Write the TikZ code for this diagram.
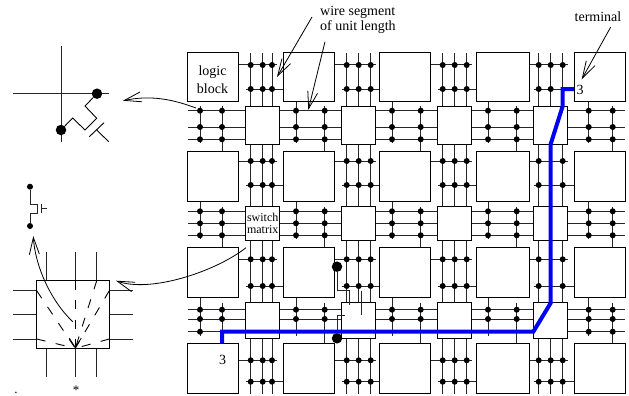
\documentclass[tikz,border=0pt]{standalone}
\usepackage{fontspec}
\setmainfont{Liberation Serif}
\usetikzlibrary{arrows.meta,calc}
\definecolor{routeblue}{RGB}{0,0,245}
\definecolor{wiregray}{gray}{0.15}
\tikzset{
  logicblock/.style={rectangle,draw=black,fill=white,line width=1pt,inner sep=0pt},
  blocklabel/.style={align=center,inner sep=0pt,font=\fontsize{14}{18}\selectfont},
  switchlabel/.style={align=center,inner sep=0pt,font=\fontsize{12}{12}\selectfont},
  textlabel/.style={align=left,inner sep=0pt,font=\fontsize{14}{15}\selectfont},
  marklabel/.style={anchor=base,inner sep=0pt,outer sep=0pt,font=\fontsize{13}{13}\selectfont},
  track/.style={draw=wiregray,line width=1pt},
  wiredot/.style={fill=black},
  bigdot/.style={circle,fill=black,inner sep=0pt,minimum size=10.5pt},
  smalldot/.style={circle,fill=black,inner sep=0pt,minimum size=6pt},
  thinwire/.style={draw=wiregray,line width=0.9pt},
  route/.style={draw=routeblue,line width=4pt},
  leader/.style={draw=black,line width=0.8pt,-{Straight Barb[length=17pt,width=10pt,line width=0.8pt]}},
  radial/.style={draw=black,line width=0.9pt,dash pattern=on 9pt off 10.5pt}
}
\begin{document}
\begin{tikzpicture}[x=1pt,y=-1pt]
  \useasboundingbox (0,0) rectangle (629,396);
  % routing channels
  \foreach \ty in {110.7,127,139.3,211.3,223.3,235.3,309.7,319,331.7}
    \draw[track] (188,\ty) -- (625,\ty);
  \foreach \tx in {250.7,262.7,272,346.7,358.7,370.7,442.7,454.7,466.7,538.7,550.7,562.7}
    \draw[track] (\tx,53) -- (\tx,394);
  \foreach \pa/\pb in {296/324.7,392/420.7,488/516.7,588.7/612.7}
    \foreach \ya/\yc/\yt/\yb in {101/139.3/106/151.7,202/235.3/206.7/247.3,298/331.7/302.7/343.7} {
      \draw[track] (\pa,\ya) -- (\pa,{\yc+4});
      \draw[track] (\pb,{\yt}) -- (\pb,\yb);
    }
  \draw[track] (200,106) -- (200,143.3);
  \draw[track] (222,106) -- (222,151.7);
  \draw[track] (200,202) -- (200,239.3);
  \draw[track] (222,206.7) -- (222,247.3);
  \draw[track] (200,298) -- (200,335.7);
  \draw[track] (222,302.7) -- (222,343.7);
  \foreach \lft/\ca/\cc/\rgt in {238.7/250.7/272/284,334.7/346.7/370.7/380,430.7/442.7/466.7/476,529/538.7/562.7/574}
    \foreach \ya/\yb in {65/89,161/185,259.3/286,360.3/381.7} {
      \draw[track] (\lft,\ya) -- ({\cc+5},\ya);
      \draw[track] ({\ca-5},\yb) -- (\rgt,\yb);
    }
  % logic blocks and switch matrices
  \foreach \bx/\bw [count=\i] in {213.3/50.7,309.3/50.7,405.3/50.7,502.5/53,599.5/51}
    \foreach \by/\bh [count=\j] in {77/48,176.8/50.3,272.6/50.7,368.8/50.3}
      \node[logicblock,minimum width=\bw pt,minimum height=\bh pt] (block-\i-\j) at (\bx,\by) {};
  \foreach \sx [count=\i] in {262.3,358.3,454.3,550.3}
    \foreach \sy/\sh [count=\j] in {125/38,223.5/33.6,320.5/35.6}
      \node[logicblock,minimum width=34pt,minimum height=\sh pt] (matrix-\i-\j) at (\sx,\sy) {};
  % junctions
  \foreach \dx in {250.7,262.7,272,346.7,358.7,370.7,442.7,454.7,466.7,538.7,550.7,562.7}
    \foreach \dy in {65,360.3,381.7}
      \fill[wiredot] (\dx,\dy) circle (3pt);
  \foreach \dx in {250.7,262.7,272,346.7,358.7,370.7,442.7,454.7,466.7}
    \foreach \dy in {89,161,185,259.3,286}
      \fill[wiredot] (\dx,\dy) circle (3pt);
  \foreach \dx in {538.7,550.7}
    \fill[wiredot] (\dx,89) circle (3pt);
  \foreach \dy in {161,185,259.3,286}
    \foreach \dx in {538.7,562.7}
      \fill[wiredot] (\dx,\dy) circle (3pt);
  \foreach \dx in {200,222,296,324.7,392,420.7,488,516.7,588.7,612.7}
    \foreach \dy in {110.7,127,139.3,211.3,223.3,235.3,309.7,319}
      \fill[wiredot] (\dx,\dy) circle (3pt);
  \foreach \dx in {200,588.7,612.7}
    \fill[wiredot] (\dx,331.7) circle (3pt);
  % transistor over the middle matrix
  \node[bigdot] (drain) at (337,266.7) {};
  \node[bigdot] (source) at (337,338.3) {};
  \coordinate (draintop) at (349,305);
  \coordinate (sourceend) at (345,315);
  \coordinate (gatetop) at (361,290.7);
  \coordinate (gatelow) at (361,314.7);
  \draw[thinwire] (drain) |- (draintop |- gatetop) -- (draintop);
  \draw[thinwire] (source) |- (sourceend);
  \draw[thinwire] (gatetop) -- (gatelow);
  % blue route
  \coordinate (routea) at (222,343.7);
  \coordinate (routeb) at (222,331.7);
  \coordinate (routec) at (533.3,331.7);
  \coordinate (routed) at (550.7,303);
  \coordinate (routee) at (550.7,144);
  \coordinate (routef) at (562.7,106);
  \coordinate (routeg) at (562.7,89);
  \coordinate (routeh) at (574,89);
  \draw[route] (routea) -- (routeb) -- (routec) -- (routed) -- (routee) -- (routef) -- (routeg) -- (routeh);
  % labels
  \node[blocklabel] (logiclabel) at (212.5,80) {logic\\block};
  \node[switchlabel] (switchlabel) at (262.7,223) {switch\\matrix};
  \node[textlabel,anchor=west] (wirelabel) at (320,20) {wire segment\\of unit length};
  \node[textlabel] (termlabel) at (598,17) {terminal};
  \node[textlabel] (threea) at (580,89.5) {3};
  \node[textlabel] (threeb) at (222.7,360) {3};
  \coordinate (wirefroma) at (312,17);
  \coordinate (wiretoa) at (277,77);
  \coordinate (wirefromb) at (325,41.7);
  \coordinate (wiretob) at (308.3,110);
  \coordinate (termfrom) at (610.7,27);
  \coordinate (termto) at (581.7,79.3);
  \draw[leader] (wirefroma) -- (wiretoa);
  \draw[leader] (wirefromb) -- (wiretob);
  \draw[leader] (termfrom) -- (termto);
  % crossing detail
  \coordinate (crossw) at (12.7,93.7);
  \coordinate (crosse) at (109.3,93.7);
  \coordinate (crossn) at (61,46);
  \coordinate (crosss) at (61,141.7);
  \draw[track] (crossw) -- (crosse);
  \draw[track] (crossn) -- (crosss);
  \node[bigdot] (crossa) at (97,93.7) {};
  \node[bigdot] (crossb) at (61,130) {};
  \coordinate (plated) at (89.3,136.7);
  \coordinate (plateu) at (104,122.7);
  \coordinate (stema) at (96.7,130);
  \coordinate (stemb) at (108.7,141.7);
  \draw[thinwire,draw=black] (crossa) -- (85,106) -- (96.7,118.3) -- (85,130) -- (72.7,118) -- (crossb);
  \draw[thinwire,draw=black] (plated) -- (plateu);
  \draw[thinwire,draw=black] (stema) -- (stemb);
  % switch detail
  \node[smalldot] (swtop) at (30,186.7) {};
  \node[smalldot] (swlow) at (30,226) {};
  \draw[thinwire] (swtop) |- (37.7,204) -- (37.7,213.3) -| (swlow);
  \coordinate (swplateu) at (41.3,204);
  \coordinate (swplated) at (41.3,213.3);
  \coordinate (swstema) at (41.3,208.7);
  \coordinate (swstemb) at (46.7,208.7);
  \draw[thinwire] (swplateu) -- (swplated);
  \draw[thinwire] (swstema) -- (swstemb);
  \foreach \px in {46.7,75.3,96.7} {
    \draw[track] (\px,252) -- (\px,376.7);
  }
  \foreach \py in {290.7,314.7,339} {
    \draw[track] (12.7,\py) -- (132.7,\py);
  }
  \node[logicblock,minimum width=72.6pt,minimum height=67.6pt] (bigmatrix) at (73,314.5) {};
  \coordinate (pinbot) at (75.3,348.3);
  \coordinate (pintop) at (75.3,280.7);
  \foreach \rx/\ry in {96.7/280.7,109.3/290.7,36.7/290.7,36.7/339,109.3/339}
    \draw[radial] (\rx,\ry) -- (pinbot);
  \draw[radial,-{Straight Barb[length=9.5pt,width=12pt,line width=0.8pt]}] (pintop) -- (pinbot);
  \node[marklabel] (starmark) at (76,394) {*};
  \node[marklabel] (dotmark) at (16,393) {.};
  % detail arrows
  \coordinate (blockfrom) at (196,108);
  \coordinate (blockto) at (123,100.7);
  \coordinate (matrixfrom) at (246,247.7);
  \coordinate (matrixto) at (116,280.7);
  \coordinate (radialfrom) at (72.7,321.7);
  \coordinate (radialto) at (33.3,236);
  \draw[leader] (blockfrom) .. controls (172,99) and (150,95) .. (blockto);
  \draw[leader] (matrixfrom) .. controls (215,272) and (150,293) .. (matrixto);
  \draw[leader] (radialfrom) .. controls (50,300) and (35,265) .. (radialto);
\end{tikzpicture}
\end{document}
